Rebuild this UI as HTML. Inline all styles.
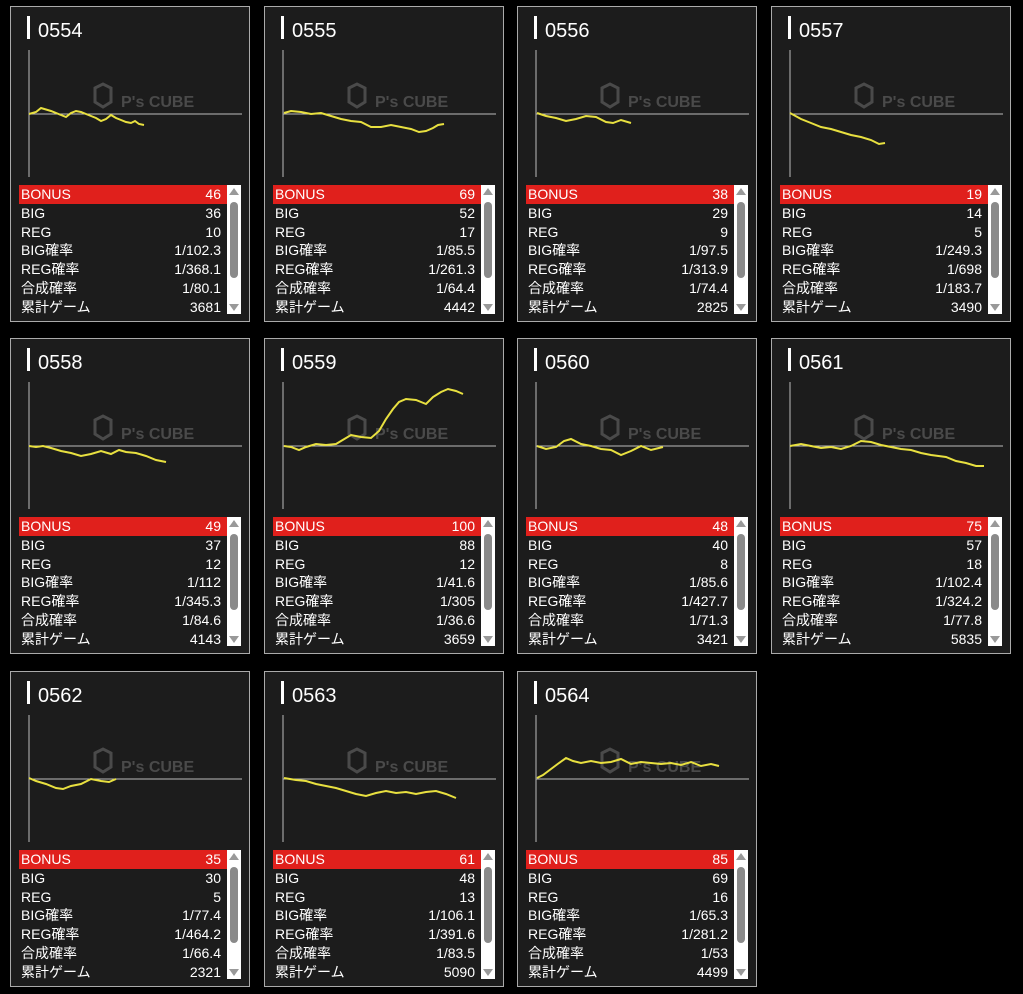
<!DOCTYPE html>
<html><head><meta charset="utf-8"><style>
body{margin:0;background:#000;width:1023px;height:994px;position:relative;overflow:hidden;font-family:"Liberation Sans","Noto Sans CJK JP",sans-serif;color:#fff}
.c{position:absolute;width:238px;height:314px;border:1px solid #aaa;background:#1c1c1c}
.c .bar{position:absolute;left:16px;top:9px;width:3px;height:23px;background:#fff}
.c .t{position:absolute;left:27px;top:12px;font-size:20px;line-height:24px}
.c svg{position:absolute;left:0;top:0}
.c .tb{position:absolute;left:8px;top:178px;width:208px;font-size:14px}
.c .r{height:18.8px;line-height:18.8px;display:flex;justify-content:space-between;padding:0 6px 0 2px}
.c .r:first-child{background:#e0201c}
.c .sb{position:absolute;left:216px;top:178px;width:14px;height:129px;background:#fff}
.c .th{position:absolute;left:3px;top:17px;width:8px;height:76px;background:#8a8a8a;border-radius:4px}
.c .ua{position:absolute;left:2px;top:3px;width:0;height:0;border-left:5px solid transparent;border-right:5px solid transparent;border-bottom:7px solid #999}
.c .da{position:absolute;left:2px;bottom:3px;width:0;height:0;border-left:5px solid transparent;border-right:5px solid transparent;border-top:7px solid #999}
</style></head><body>
<svg width="0" height="0" style="position:absolute"><defs><g id="ax"><line x1="18" y1="43" x2="18" y2="170" stroke="#bbb" stroke-width="1"/><line x1="18" y1="107" x2="231" y2="107" stroke="#bbb" stroke-width="1"/><polygon points="84,81 92,77 100,81 100,95 92,100 84,95" fill="none" stroke="#4a4a4a" stroke-width="3"/><text x="110" y="100" font-family="Liberation Sans" font-weight="bold" font-size="16" fill="#4a4a4a">P's CUBE</text></g></defs></svg>

<div class="c" style="left:10px;top:6px"><div class="bar"></div><div class="t">0554</div>
<svg width="238" height="314"><use href="#ax"/><polyline fill="none" stroke="#e8e040" stroke-width="2" points="18,107 25,105 30,101 40,104 50,108 55,110 60,106 65,104 70,105 75,107 85,111 90,114 95,112 100,108 105,111 110,113 115,115 120,116 124,114 128,117 133,118"/></svg>
<div class="tb"><div class="r"><span>BONUS</span><span>46</span></div><div class="r"><span>BIG</span><span>36</span></div><div class="r"><span>REG</span><span>10</span></div><div class="r"><span>BIG確率</span><span>1/102.3</span></div><div class="r"><span>REG確率</span><span>1/368.1</span></div><div class="r"><span>合成確率</span><span>1/80.1</span></div><div class="r"><span>累計ゲーム</span><span>3681</span></div></div>
<div class="sb"><div class="ua"></div><div class="th"></div><div class="da"></div></div></div>

<div class="c" style="left:264px;top:6px"><div class="bar"></div><div class="t">0555</div>
<svg width="238" height="314"><use href="#ax"/><polyline fill="none" stroke="#e8e040" stroke-width="2" points="19,106 26,104 36,105 46,107 56,106 66,109 76,112 86,114 96,115 106,120 116,120 126,118 136,120 146,122 154,125 161,124 168,121 173,118 179,117"/></svg>
<div class="tb"><div class="r"><span>BONUS</span><span>69</span></div><div class="r"><span>BIG</span><span>52</span></div><div class="r"><span>REG</span><span>17</span></div><div class="r"><span>BIG確率</span><span>1/85.5</span></div><div class="r"><span>REG確率</span><span>1/261.3</span></div><div class="r"><span>合成確率</span><span>1/64.4</span></div><div class="r"><span>累計ゲーム</span><span>4442</span></div></div>
<div class="sb"><div class="ua"></div><div class="th"></div><div class="da"></div></div></div>

<div class="c" style="left:517px;top:6px"><div class="bar"></div><div class="t">0556</div>
<svg width="238" height="314"><use href="#ax"/><polyline fill="none" stroke="#e8e040" stroke-width="2" points="19,106 28,109 38,111 48,114 58,112 68,109 78,110 88,115 95,116 103,113 113,116"/></svg>
<div class="tb"><div class="r"><span>BONUS</span><span>38</span></div><div class="r"><span>BIG</span><span>29</span></div><div class="r"><span>REG</span><span>9</span></div><div class="r"><span>BIG確率</span><span>1/97.5</span></div><div class="r"><span>REG確率</span><span>1/313.9</span></div><div class="r"><span>合成確率</span><span>1/74.4</span></div><div class="r"><span>累計ゲーム</span><span>2825</span></div></div>
<div class="sb"><div class="ua"></div><div class="th"></div><div class="da"></div></div></div>

<div class="c" style="left:771px;top:6px"><div class="bar"></div><div class="t">0557</div>
<svg width="238" height="314"><use href="#ax"/><polyline fill="none" stroke="#e8e040" stroke-width="2" points="18,106 29,112 39,116 49,120 59,122 69,125 79,128 89,130 99,133 107,137 113,136"/></svg>
<div class="tb"><div class="r"><span>BONUS</span><span>19</span></div><div class="r"><span>BIG</span><span>14</span></div><div class="r"><span>REG</span><span>5</span></div><div class="r"><span>BIG確率</span><span>1/249.3</span></div><div class="r"><span>REG確率</span><span>1/698</span></div><div class="r"><span>合成確率</span><span>1/183.7</span></div><div class="r"><span>累計ゲーム</span><span>3490</span></div></div>
<div class="sb"><div class="ua"></div><div class="th"></div><div class="da"></div></div></div>

<div class="c" style="left:10px;top:338px"><div class="bar"></div><div class="t">0558</div>
<svg width="238" height="314"><use href="#ax"/><polyline fill="none" stroke="#e8e040" stroke-width="2" points="18,107 25,108 32,107 40,109 50,112 60,114 70,117 80,115 90,112 100,115 108,111 115,113 125,114 135,117 145,121 155,123"/></svg>
<div class="tb"><div class="r"><span>BONUS</span><span>49</span></div><div class="r"><span>BIG</span><span>37</span></div><div class="r"><span>REG</span><span>12</span></div><div class="r"><span>BIG確率</span><span>1/112</span></div><div class="r"><span>REG確率</span><span>1/345.3</span></div><div class="r"><span>合成確率</span><span>1/84.6</span></div><div class="r"><span>累計ゲーム</span><span>4143</span></div></div>
<div class="sb"><div class="ua"></div><div class="th"></div><div class="da"></div></div></div>

<div class="c" style="left:264px;top:338px"><div class="bar"></div><div class="t">0559</div>
<svg width="238" height="314"><use href="#ax"/><polyline fill="none" stroke="#e8e040" stroke-width="2" points="19,107 26,108 34,111 41,108 51,105 61,106 71,105 76,102 86,96 96,98 106,99 114,92 121,80 128,70 134,63 141,60 151,61 161,65 168,58 176,53 183,50 191,52 198,55"/></svg>
<div class="tb"><div class="r"><span>BONUS</span><span>100</span></div><div class="r"><span>BIG</span><span>88</span></div><div class="r"><span>REG</span><span>12</span></div><div class="r"><span>BIG確率</span><span>1/41.6</span></div><div class="r"><span>REG確率</span><span>1/305</span></div><div class="r"><span>合成確率</span><span>1/36.6</span></div><div class="r"><span>累計ゲーム</span><span>3659</span></div></div>
<div class="sb"><div class="ua"></div><div class="th"></div><div class="da"></div></div></div>

<div class="c" style="left:517px;top:338px"><div class="bar"></div><div class="t">0560</div>
<svg width="238" height="314"><use href="#ax"/><polyline fill="none" stroke="#e8e040" stroke-width="2" points="19,107 28,110 38,108 46,102 53,100 63,105 73,107 83,110 93,111 103,116 113,112 123,107 133,111 145,108"/></svg>
<div class="tb"><div class="r"><span>BONUS</span><span>48</span></div><div class="r"><span>BIG</span><span>40</span></div><div class="r"><span>REG</span><span>8</span></div><div class="r"><span>BIG確率</span><span>1/85.6</span></div><div class="r"><span>REG確率</span><span>1/427.7</span></div><div class="r"><span>合成確率</span><span>1/71.3</span></div><div class="r"><span>累計ゲーム</span><span>3421</span></div></div>
<div class="sb"><div class="ua"></div><div class="th"></div><div class="da"></div></div></div>

<div class="c" style="left:771px;top:338px"><div class="bar"></div><div class="t">0561</div>
<svg width="238" height="314"><use href="#ax"/><polyline fill="none" stroke="#e8e040" stroke-width="2" points="18,107 29,105 39,107 49,109 59,108 69,110 79,107 89,102 99,103 109,106 119,108 129,110 139,111 149,114 159,116 174,118 184,122 194,124 204,127 212,127"/></svg>
<div class="tb"><div class="r"><span>BONUS</span><span>75</span></div><div class="r"><span>BIG</span><span>57</span></div><div class="r"><span>REG</span><span>18</span></div><div class="r"><span>BIG確率</span><span>1/102.4</span></div><div class="r"><span>REG確率</span><span>1/324.2</span></div><div class="r"><span>合成確率</span><span>1/77.8</span></div><div class="r"><span>累計ゲーム</span><span>5835</span></div></div>
<div class="sb"><div class="ua"></div><div class="th"></div><div class="da"></div></div></div>

<div class="c" style="left:10px;top:671px"><div class="bar"></div><div class="t">0562</div>
<svg width="238" height="314"><use href="#ax"/><polyline fill="none" stroke="#e8e040" stroke-width="2" points="18,106 25,109 35,112 45,116 52,117 60,114 70,112 80,107 90,109 98,110 105,107"/></svg>
<div class="tb"><div class="r"><span>BONUS</span><span>35</span></div><div class="r"><span>BIG</span><span>30</span></div><div class="r"><span>REG</span><span>5</span></div><div class="r"><span>BIG確率</span><span>1/77.4</span></div><div class="r"><span>REG確率</span><span>1/464.2</span></div><div class="r"><span>合成確率</span><span>1/66.4</span></div><div class="r"><span>累計ゲーム</span><span>2321</span></div></div>
<div class="sb"><div class="ua"></div><div class="th"></div><div class="da"></div></div></div>

<div class="c" style="left:264px;top:671px"><div class="bar"></div><div class="t">0563</div>
<svg width="238" height="314"><use href="#ax"/><polyline fill="none" stroke="#e8e040" stroke-width="2" points="19,106 31,108 41,109 51,112 61,114 71,116 81,119 91,122 101,124 111,121 121,119 131,121 141,120 151,122 161,120 171,119 181,122 191,126"/></svg>
<div class="tb"><div class="r"><span>BONUS</span><span>61</span></div><div class="r"><span>BIG</span><span>48</span></div><div class="r"><span>REG</span><span>13</span></div><div class="r"><span>BIG確率</span><span>1/106.1</span></div><div class="r"><span>REG確率</span><span>1/391.6</span></div><div class="r"><span>合成確率</span><span>1/83.5</span></div><div class="r"><span>累計ゲーム</span><span>5090</span></div></div>
<div class="sb"><div class="ua"></div><div class="th"></div><div class="da"></div></div></div>

<div class="c" style="left:517px;top:671px"><div class="bar"></div><div class="t">0564</div>
<svg width="238" height="314"><use href="#ax"/><polyline fill="none" stroke="#e8e040" stroke-width="2" points="19,106 25,103 33,97 41,91 48,86 55,89 63,91 73,89 83,91 93,90 103,87 113,92 123,90 133,91 143,92 153,91 163,93 173,90 183,94 193,92 201,94"/></svg>
<div class="tb"><div class="r"><span>BONUS</span><span>85</span></div><div class="r"><span>BIG</span><span>69</span></div><div class="r"><span>REG</span><span>16</span></div><div class="r"><span>BIG確率</span><span>1/65.3</span></div><div class="r"><span>REG確率</span><span>1/281.2</span></div><div class="r"><span>合成確率</span><span>1/53</span></div><div class="r"><span>累計ゲーム</span><span>4499</span></div></div>
<div class="sb"><div class="ua"></div><div class="th"></div><div class="da"></div></div></div>
</body></html>
